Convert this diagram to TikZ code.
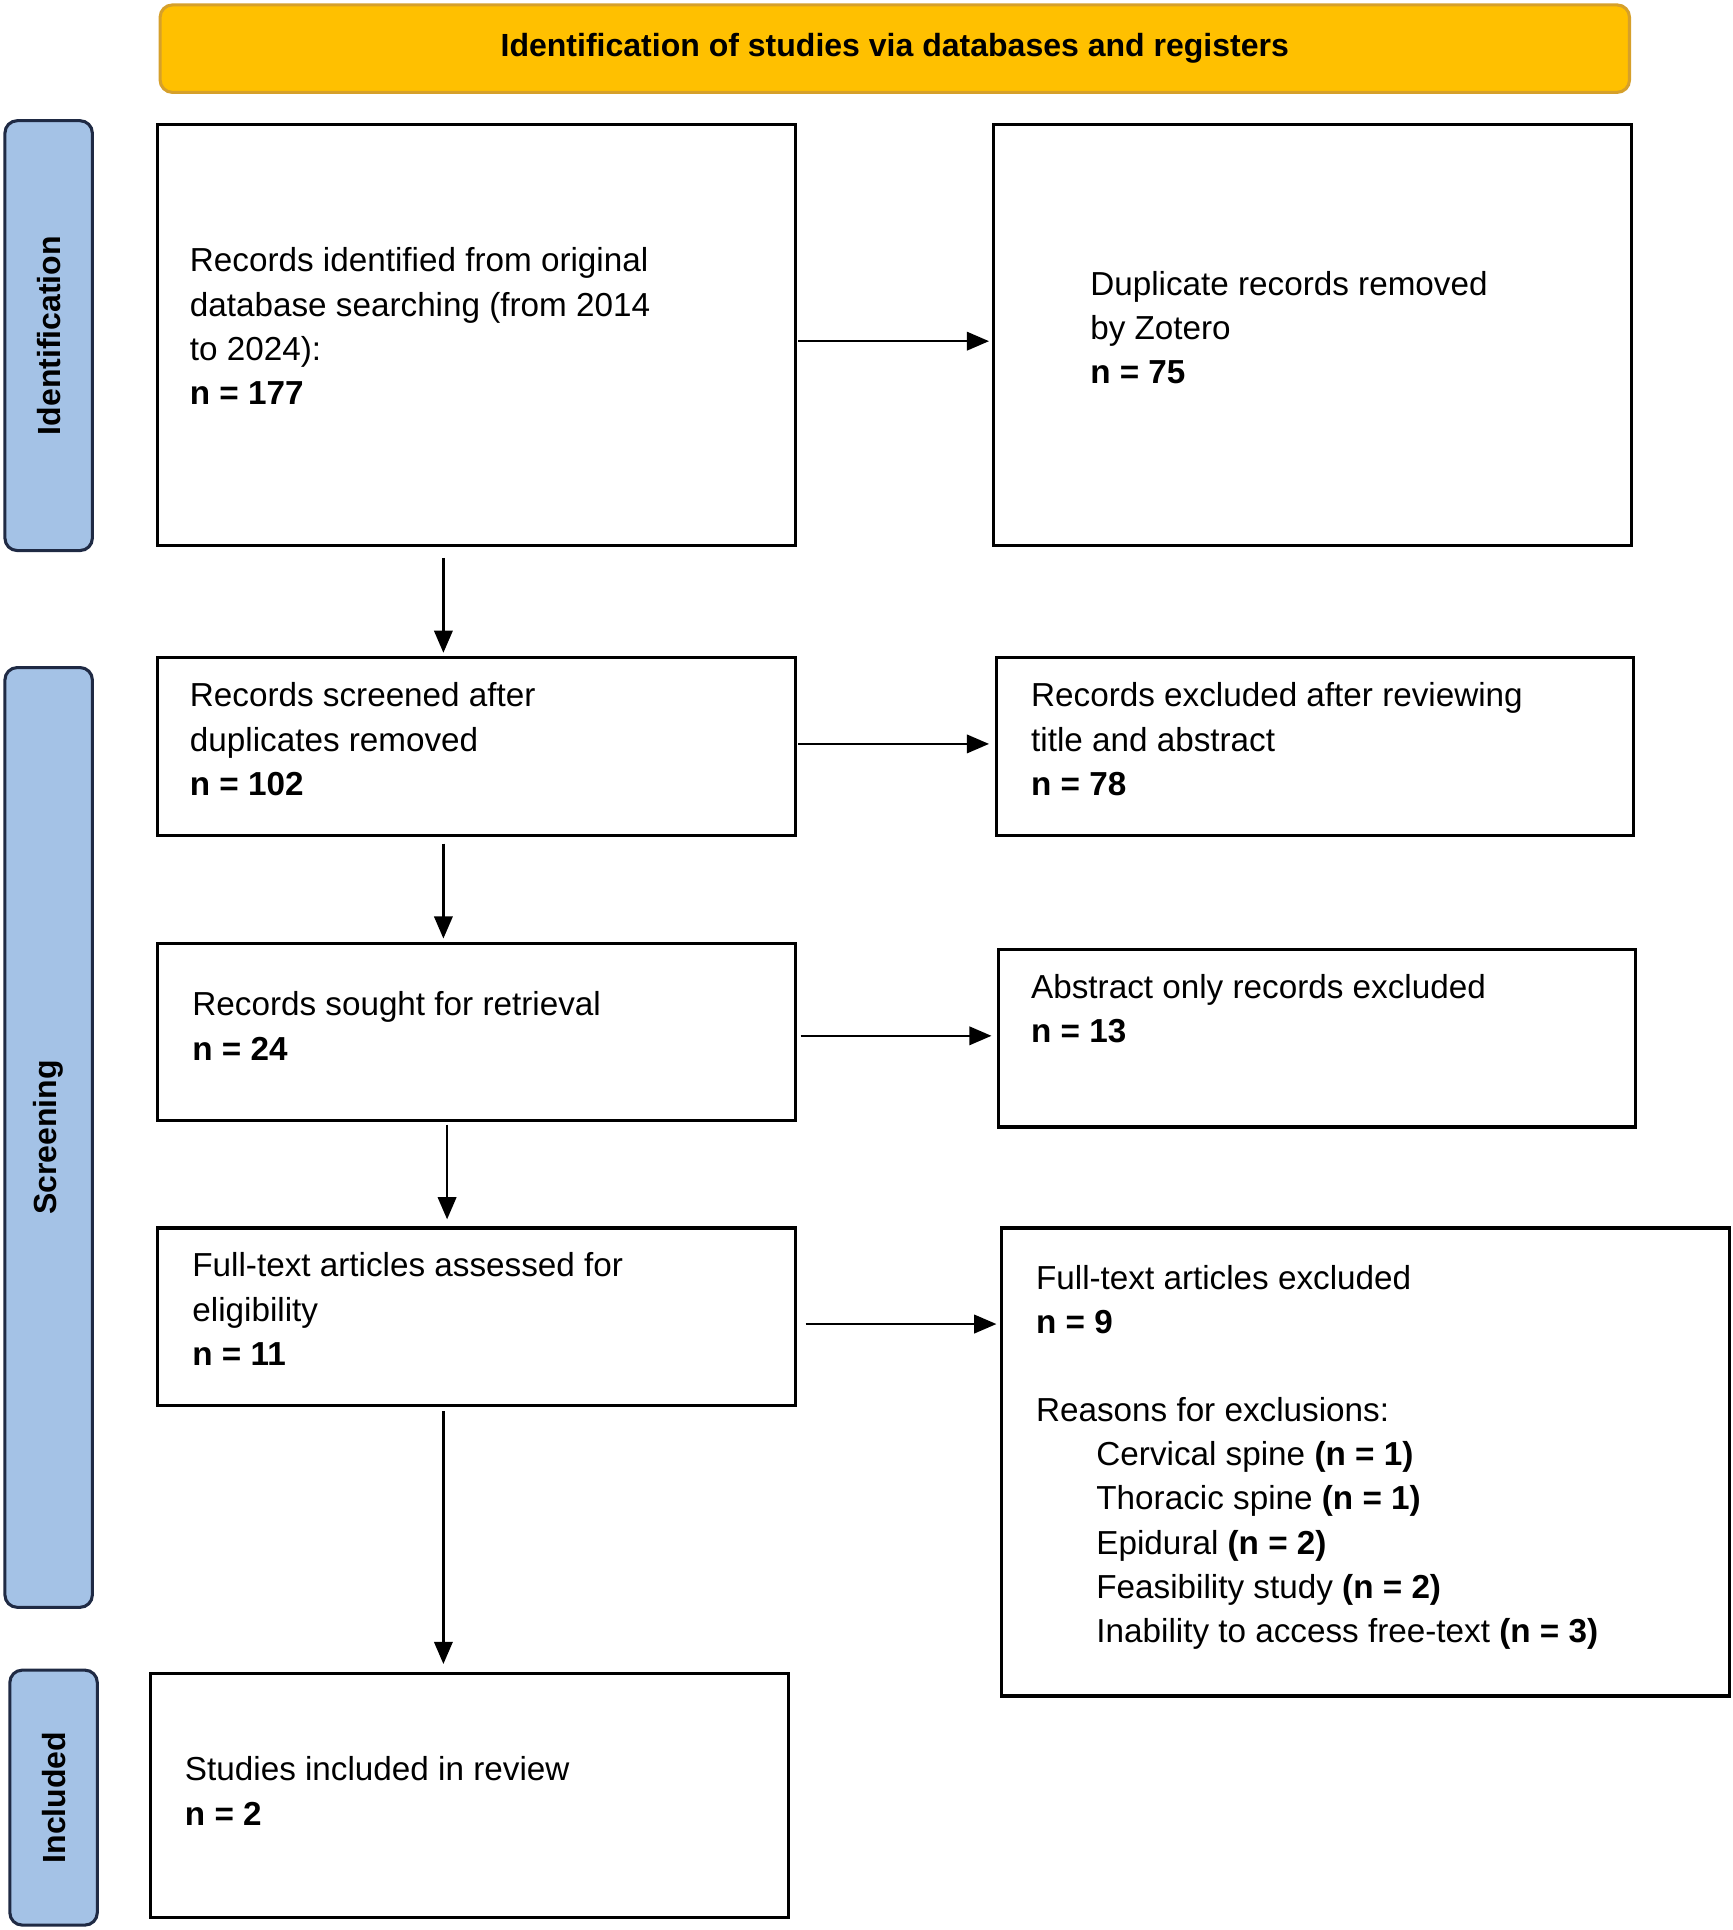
\documentclass[tikz,border=0pt]{standalone}
\usepackage{fontspec}
\setmainfont{Liberation Sans}
\usetikzlibrary{arrows.meta}
\definecolor{hdr}{HTML}{FFC000}
\definecolor{hdrb}{HTML}{D6A02A}
\definecolor{side}{HTML}{A4C2E6}
\definecolor{sideb}{HTML}{1F2A44}
\begin{document}
\begin{tikzpicture}[x=1pt,y=-1pt,
  box/.style={draw,line width=2.5pt},
  txt/.style={anchor=north west,align=left,inner sep=0pt,font=\fontsize{27}{36}\selectfont},
  sidelab/.style={draw=sideb,fill=side,line width=2.5pt,rounded corners=10pt},
  arr/.style={line width=1.8pt,-{Triangle[length=18pt,width=15pt]}}]
\useasboundingbox (0,0) rectangle (1407,1567);
% header
\node[draw=hdrb,fill=hdr,line width=2.5pt,rounded corners=10pt,minimum width=1193pt,minimum height=71pt,font=\fontsize{26}{30}\selectfont\bfseries] (hdr) at (726.5,39.5) {Identification of studies via databases and registers};
% side labels
\node[sidelab,minimum width=71pt,minimum height=349pt] (s1) at (39.5,272.5) {};
\node[rotate=90,font=\fontsize{26}{30}\selectfont\bfseries] at (s1) {Identification};
\node[sidelab,minimum width=71pt,minimum height=763pt] (s2) at (39.5,923.5) {};
\node[rotate=90,font=\fontsize{26}{30}\selectfont\bfseries] at (s2) {Screening};
\node[sidelab,minimum width=71pt,minimum height=207pt] (s3) at (43.5,1459.5) {};
\node[rotate=90,font=\fontsize{26}{30}\selectfont\bfseries] at (s3) {Included};
% boxes
\draw[box] (128,101) rectangle (646,443); \coordinate (b1e) at (646,277); \coordinate (b1s) at (360,443);
\draw[box] (807,101) rectangle (1325,443); \coordinate (b2w) at (807,277);
\node[txt] (t1) at (154,201) {Records identified from original\\database searching (from 2014\\to 2024):\\\textbf{n = 177}};
\node[txt] (t2) at (885,220) {Duplicate records removed\\by Zotero\\\textbf{n = 75}};
\draw[box] (128,534) rectangle (646,678);
\draw[box] (809,534) rectangle (1326,678);
\node[txt] (t3) at (154,554) {Records screened after\\duplicates removed\\\textbf{n = 102}};
\node[txt] (t4) at (837,554) {Records excluded after reviewing\\title and abstract\\\textbf{n = 78}};
\draw[box] (128,766) rectangle (646,910);
\draw[box] (811,771) rectangle (1328,915);
\node[txt] (t5) at (156,805) {Records sought for retrieval\\\textbf{n = 24}};
\node[txt] (t6) at (837,791) {Abstract only records excluded\\\textbf{n = 13}};
\draw[box] (128,997) rectangle (646,1141);
\draw[box] (813,997) rectangle (1404,1377);
\node[txt] (t7) at (156,1017) {Full-text articles assessed for\\eligibility\\\textbf{n = 11}};
\node[txt] (t8) at (841,1027) {Full-text articles excluded\\\textbf{n = 9}\\[35pt]Reasons for exclusions:\\
\hspace*{49pt}Cervical spine \textbf{(n = 1)}\\
\hspace*{49pt}Thoracic spine \textbf{(n = 1)}\\
\hspace*{49pt}Epidural \textbf{(n = 2)}\\
\hspace*{49pt}Feasibility study \textbf{(n = 2)}\\
\hspace*{49pt}Inability to access free-text \textbf{(n = 3)}};
\draw[box] (122,1359) rectangle (640,1557);
\node[txt] (t9) at (150,1426) {Studies included in review\\\textbf{n = 2}};
% arrows
\coordinate (a1) at (648,277); \coordinate (a2) at (803,277);
\coordinate (a3) at (648,604); \coordinate (a4) at (803,604);
\coordinate (a5) at (650,841); \coordinate (a6) at (805,841);
\coordinate (a7) at (654,1075); \coordinate (a8) at (809,1075);
\coordinate (v1) at (360,453); \coordinate (v2) at (360,530);
\coordinate (v3) at (360,685); \coordinate (v4) at (360,762);
\coordinate (v5) at (363,913); \coordinate (v6) at (363,990);
\coordinate (v7) at (360,1146); \coordinate (v8) at (360,1351);
\draw[arr] (a1) -- (a2);
\draw[arr] (a3) -- (a4);
\draw[arr] (a5) -- (a6);
\draw[arr] (a7) -- (a8);
\draw[arr] (v1) -- (v2);
\draw[arr] (v3) -- (v4);
\draw[arr] (v5) -- (v6);
\draw[arr] (v7) -- (v8);
\end{tikzpicture}
\end{document}
